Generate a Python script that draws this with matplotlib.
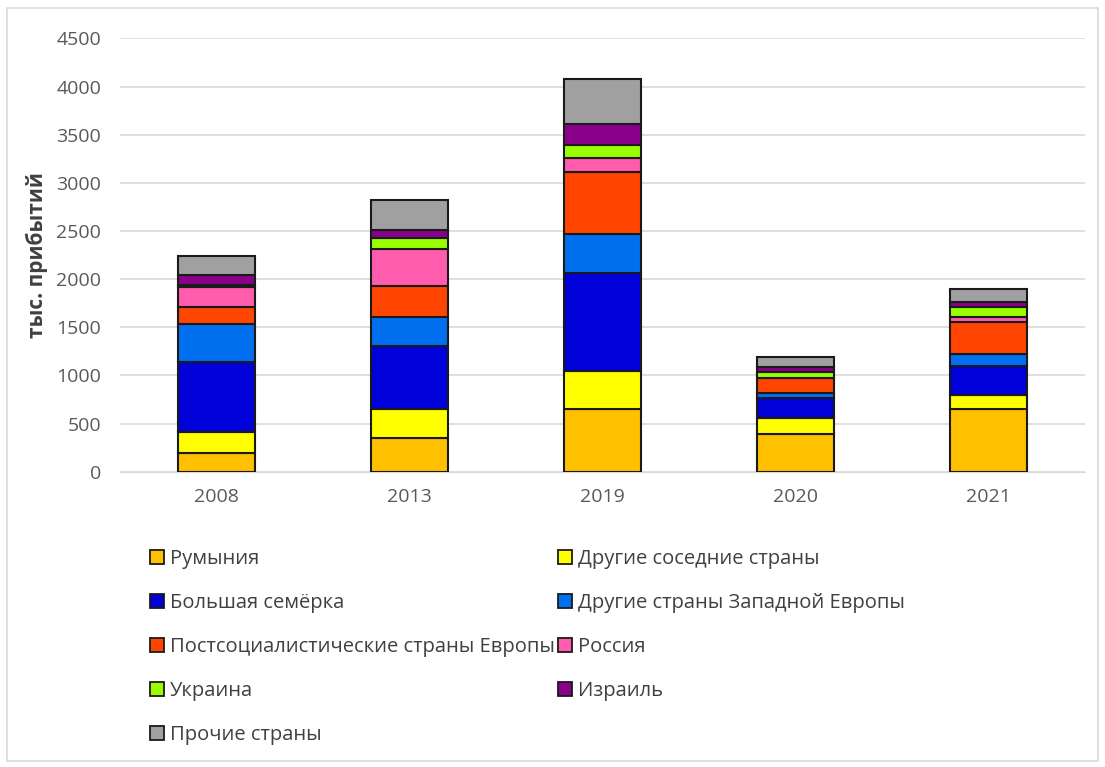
import matplotlib.pyplot as plt
from matplotlib.patches import Patch, Rectangle
import numpy as np

plt.rcParams['font.family'] = ['Open Sans', 'DejaVu Sans']

years = ["2008", "2013", "2019", "2020", "2021"]

series_names = [
    "Румыния",
    "Другие соседние страны",
    "Большая семёрка",
    "Другие страны Западной Европы",
    "Постсоциалистические страны Европы",
    "Россия",
    "Украина",
    "Израиль",
    "Прочие страны",
]

# thousand arrivals
romania = [190, 355, 655, 395, 655]
neighbours = [225, 300, 395, 165, 145]
g7 = [725, 650, 1015, 205, 300]
west_europe = [395, 300, 405, 57, 125]
post_socialist = [175, 322, 643, 150, 330]
russia = [210, 383, 145, 5, 52]
ukraine = [20, 114, 135, 62, 104]
israel = [100, 83, 217, 52, 52]
others = [197, 311, 467, 103, 135]

colors = ["#FFC000", "#FFFF00", "#0000D8", "#0070F0", "#FF4500",
          "#FF5CAD", "#99FF00", "#8B008B", "#A0A0A0"]

data = [romania, neighbours, g7, west_europe, post_socialist,
        russia, ukraine, israel, others]

fig = plt.figure(figsize=(11.05, 7.67), dpi=100)
ax = fig.add_axes([0.109, 0.385, 0.873, 0.565])

# light frame round the whole chart
fig.patches.append(Rectangle((0.006, 0.008), 0.988, 0.982, transform=fig.transFigure,
                             fill=False, edgecolor="#D9D9D9", linewidth=1.2))

x = np.arange(len(years))
bottom = np.zeros(len(years))
for name, vals, col in zip(series_names, data, colors):
    ax.bar(x, vals, width=0.40, bottom=bottom, color=col, edgecolor="#1a1a1a",
           linewidth=1.5, zorder=3)
    bottom += np.array(vals)

ax.set_xlim(-0.5, 4.5)
ax.set_ylim(0, 4500)
ax.set_yticks(range(0, 4501, 500))
ax.set_xticks(x)
ax.set_xticklabels(years)
ax.tick_params(axis="both", length=0, labelsize=14, colors="#595959")
ax.tick_params(axis="y", pad=14)
ax.tick_params(axis="x", pad=12)
ax.grid(axis="y", color="#D9D9D9", linewidth=1.2, zorder=0)
for s in ["top", "right", "left"]:
    ax.spines[s].set_visible(False)
ax.spines["bottom"].set_color("#D9D9D9")
ax.set_ylabel("тыс. прибытий", fontsize=15, fontweight="bold", color="#404040", labelpad=6)

# legend: row-major order in the reference, matplotlib fills column-first
order = [0, 2, 4, 6, 8, 1, 3, 5, 7]
handles = [Patch(facecolor=colors[i], edgecolor="#1a1a1a", linewidth=1.3) for i in order]
labels = [series_names[i] for i in order]
fig.legend(handles, labels, loc="upper left", bbox_to_anchor=(0.119, 0.308),
           ncol=2, frameon=False, fontsize=14.5, handlelength=0.7, handleheight=0.7,
           handletextpad=0.3, columnspacing=0.15, labelspacing=1.19,
           labelcolor="#404040")

fig.savefig("out.png", dpi=100)
